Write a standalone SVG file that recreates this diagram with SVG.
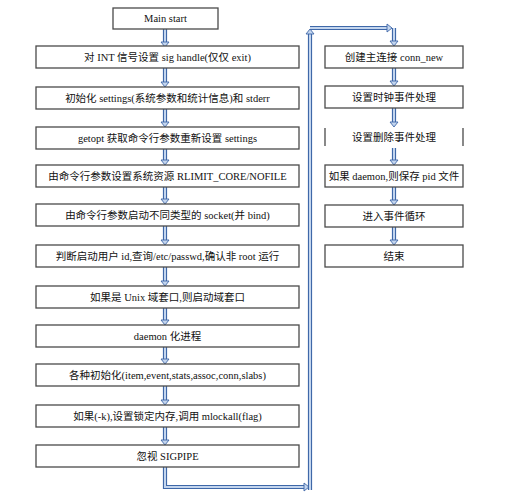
<svg xmlns="http://www.w3.org/2000/svg" width="517" height="500" viewBox="0 0 517 500">
<defs>
<style>
.box{fill:#fff;stroke:#4a4a4a;stroke-width:1.3}
.t{font-family:"Liberation Serif","Noto Sans CJK SC",serif;font-size:10.5px;fill:#111;text-anchor:middle}
.so{fill:none;stroke:#3f68a8;stroke-width:4.2}
.si{fill:none;stroke:#c3d5ee;stroke-width:2}
</style>
<marker id="ah" viewBox="-1 -5 7 10" markerWidth="7" markerHeight="10" refX="0" refY="0" orient="auto" markerUnits="userSpaceOnUse">
<path d="M0,-4 L5,0 L0,4 z" fill="#c3d5ee" stroke="#3f68a8" stroke-width="0.9"/>
</marker>
</defs>
<rect width="517" height="500" fill="#fff"/>
<g id="connectors">
<!-- left column arrows -->
<g>
<path class="so" d="M165,29 V42"/><path class="si" d="M165,29 V42" marker-end="url(#ah)"/>
<path class="so" d="M165,68 V82"/><path class="si" d="M165,68 V82" marker-end="url(#ah)"/>
<path class="so" d="M165,109 V122"/><path class="si" d="M165,109 V122" marker-end="url(#ah)"/>
<path class="so" d="M165,149 V160"/><path class="si" d="M165,149 V160" marker-end="url(#ah)"/>
<path class="so" d="M165,187 V199"/><path class="si" d="M165,187 V199" marker-end="url(#ah)"/>
<path class="so" d="M165,226 V240"/><path class="si" d="M165,226 V240" marker-end="url(#ah)"/>
<path class="so" d="M165,267 V281"/><path class="si" d="M165,267 V281" marker-end="url(#ah)"/>
<path class="so" d="M165,308 V320"/><path class="si" d="M165,308 V320" marker-end="url(#ah)"/>
<path class="so" d="M165,347 V359"/><path class="si" d="M165,347 V359" marker-end="url(#ah)"/>
<path class="so" d="M165,386 V400"/><path class="si" d="M165,386 V400" marker-end="url(#ah)"/>
<path class="so" d="M165,427 V440"/><path class="si" d="M165,427 V440" marker-end="url(#ah)"/>
</g>
<!-- loop to right column -->
<path class="so" d="M165,467 V487 H304"/><path class="si" d="M165,467 V487 H304" marker-end="url(#ah)"/>
<path class="so" d="M310,490 V34"/><path class="si" d="M310,490 V34" marker-end="url(#ah)"/>
<path class="so" d="M310,28 H387"/><path class="si" d="M310,28 H387" marker-end="url(#ah)"/>
<path class="so" d="M394,28 V41"/><path class="si" d="M394,28 V41" marker-end="url(#ah)"/>
<!-- right column arrows -->
<path class="so" d="M394,68 V81"/><path class="si" d="M394,68 V81" marker-end="url(#ah)"/>
<path class="so" d="M394,108 V122"/><path class="si" d="M394,108 V122" marker-end="url(#ah)"/>
<path class="so" d="M394,148 V160"/><path class="si" d="M394,148 V160" marker-end="url(#ah)"/>
<path class="so" d="M394,187 V200"/><path class="si" d="M394,187 V200" marker-end="url(#ah)"/>
<path class="so" d="M394,227 V240"/><path class="si" d="M394,227 V240" marker-end="url(#ah)"/>
</g>
<g id="n0"><rect class="box" x="113" y="8" width="105" height="21"/><text class="t" x="165.5" y="22">Main start</text></g>
<g id="n1"><rect class="box" x="36" y="46" width="263" height="22"/><text class="t" x="167.5" y="61">对 INT 信号设置 sig handle(仅仅 exit)</text></g>
<g id="n2"><rect class="box" x="36" y="87" width="263" height="22"/><text class="t" x="167.5" y="102">初始化 settings(系统参数和统计信息)和 stderr</text></g>
<g id="n3"><rect class="box" x="36" y="127" width="263" height="22"/><text class="t" x="167.5" y="142">getopt 获取命令行参数重新设置 settings</text></g>
<g id="n4"><rect class="box" x="36" y="165" width="263" height="22"/><text class="t" x="167.5" y="180">由命令行参数设置系统资源 RLIMIT_CORE/NOFILE</text></g>
<g id="n5"><rect class="box" x="36" y="204" width="263" height="22"/><text class="t" x="167.5" y="219">由命令行参数启动不同类型的 socket(并 bind)</text></g>
<g id="n6"><rect class="box" x="36" y="245" width="263" height="22"/><text class="t" x="167.5" y="260">判断启动用户 id,查询/etc/passwd,确认非 root 运行</text></g>
<g id="n7"><rect class="box" x="36" y="286" width="263" height="22"/><text class="t" x="167.5" y="301">如果是 Unix 域套口,则启动域套口</text></g>
<g id="n8"><rect class="box" x="36" y="325" width="263" height="22"/><text class="t" x="167.5" y="340">daemon 化进程</text></g>
<g id="n9"><rect class="box" x="36" y="364" width="263" height="22"/><text class="t" x="167.5" y="379">各种初始化(item,event,stats,assoc,conn,slabs)</text></g>
<g id="n10"><rect class="box" x="36" y="405" width="263" height="22"/><text class="t" x="167.5" y="420">如果(-k),设置锁定内存,调用 mlockall(flag)</text></g>
<g id="n11"><rect class="box" x="36" y="445" width="263" height="22"/><text class="t" x="167.5" y="460">忽视 SIGPIPE</text></g>
<g id="r0"><rect class="box" x="325" y="46" width="138" height="22"/><text class="t" x="394" y="61">创建主连接 conn_new</text></g>
<g id="r1"><rect class="box" x="325" y="86" width="138" height="22"/><text class="t" x="394" y="101">设置时钟事件处理</text></g>
<g id="r2"><path d="M325,128 V146 M463,128 V146" stroke="#4a4a4a" stroke-width="1.3"/><text class="t" x="394" y="141">设置删除事件处理</text></g>
<g id="r3"><rect class="box" x="325" y="165" width="138" height="22"/><text class="t" x="394" y="180">如果 daemon,则保存 pid 文件</text></g>
<g id="r4"><rect class="box" x="325" y="205" width="138" height="22"/><text class="t" x="394" y="220">进入事件循环</text></g>
<g id="r5"><rect class="box" x="325" y="245" width="138" height="22"/><text class="t" x="394" y="260">结束</text></g>
</svg>
